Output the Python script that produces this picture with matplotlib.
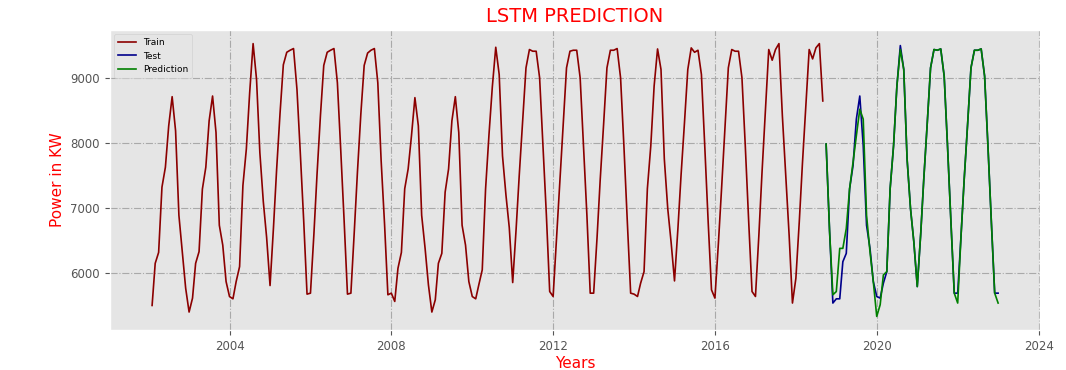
import pandas as pd
import matplotlib.pyplot as plt
import matplotlib.dates as mdates

# monthly power values (month-end dates)
train_start = '2002-01-31'
test_start = '2018-09-30'

train_values = [
    5503, 6150, 6318, 7320, 7626, 8262, 8710, 8186, 6888, 6328, 5769, 5402,  # 2002
    5616, 6150, 6330, 7290, 7626, 8339, 8720, 8160, 6735, 6430, 5870, 5640,  # 2003
    5605, 5870, 6100, 7346, 7907, 8770, 9525, 8975, 7850, 7100, 6550, 5809,  # 2004
    6700, 7580, 8450, 9200, 9392, 9423, 9449, 8823, 7850, 6800, 5677, 5692,  # 2005
    6600, 7510, 8420, 9190, 9392, 9423, 9449, 8924, 7900, 6800, 5677, 5692,  # 2006
    6650, 7550, 8450, 9190, 9380, 9423, 9449, 8924, 7730, 6750, 5667, 5692,  # 2007
    5565, 6074, 6318, 7296, 7600, 8110, 8695, 8262, 6888, 6380, 5820, 5402,  # 2008
    5590, 6150, 6303, 7244, 7600, 8339, 8710, 8160, 6735, 6430, 5870, 5640,  # 2009
    5605, 5820, 6050, 7290, 8130, 8860, 9469, 9050, 7800, 7200, 6700, 5855,  # 2010
    6680, 7500, 8330, 9153, 9434, 9408, 9408, 9000, 7958, 6895, 5717, 5641,  # 2011
    6540, 7400, 8280, 9153, 9408, 9423, 9423, 9000, 7958, 6888, 5692, 5692,  # 2012
    6556, 7430, 8290, 9153, 9423, 9423, 9449, 9000, 7958, 6786, 5692, 5677,  # 2013
    5641, 5845, 6023, 7296, 7958, 8873, 9443, 9128, 7754, 6990, 6480, 5880,  # 2014
    6690, 7500, 8310, 9128, 9459, 9392, 9423, 9051, 7958, 6786, 5743, 5616,  # 2015
    6450, 7300, 8250, 9153, 9434, 9408, 9408, 9000, 7958, 6786, 5717, 5641,  # 2016
    6590, 7540, 8490, 9434, 9270, 9434, 9525, 8415, 7500, 6583, 5540, 5921,  # 2017
    6800, 7680, 8560, 9434, 9290, 9460, 9525, 8644,                          # 2018
]

test_values = [
    7983, 6650, 5540, 5605,                                                  # 2018
    5605, 6175, 6303, 7296, 7652, 8365, 8720, 7958, 6735, 6380, 5870, 5641,  # 2019
    5616, 5845, 6023, 7296, 7958, 8873, 9495, 9128, 7754, 6990, 6480, 5793,  # 2020
    6600, 7450, 8300, 9153, 9434, 9423, 9443, 9026, 7958, 6786, 5692, 5692,  # 2021
    6600, 7450, 8300, 9153, 9423, 9423, 9443, 9026, 7958, 6786, 5692, 5692,  # 2022
]

pred_values = [
    7983, 6650, 5667, 5717,                                                  # 2018
    6380, 6380, 6685, 7296, 7700, 8110, 8517, 8365, 6888, 6330, 5870, 5335,  # 2019
    5514, 5972, 6023, 7296, 7958, 8873, 9434, 9128, 7754, 6990, 6480, 5793,  # 2020
    6600, 7450, 8300, 9153, 9434, 9423, 9443, 9026, 7958, 6786, 5692, 5540,  # 2021
    6600, 7450, 8300, 9153, 9423, 9423, 9443, 9026, 7958, 6786, 5692, 5540,  # 2022
]

train = pd.Series(train_values, index=pd.date_range(train_start, periods=len(train_values), freq='ME'))
test = pd.Series(test_values, index=pd.date_range(test_start, periods=len(test_values), freq='ME'))
pred = pd.Series(pred_values, index=pd.date_range(test_start, periods=len(pred_values), freq='ME'))

plt.style.use('ggplot')
fig = plt.figure(figsize=(10.66, 3.7), dpi=100)
ax = fig.add_axes([0.103, 0.108, 0.873, 0.811])

ax.plot(train.index, train.values, color='darkred', linewidth=1.2, label='Train')
ax.plot(test.index, test.values, color='darkblue', linewidth=1.2, label='Test')
ax.plot(pred.index, pred.values, color='green', linewidth=1.2, label='Prediction')

ax.grid(True, color='darkgray', linestyle='-.', linewidth=0.8)
ax.xaxis.set_major_locator(mdates.YearLocator(4))
ax.xaxis.set_major_formatter(mdates.DateFormatter('%Y'))
ax.set_yticks([6000, 7000, 8000, 9000])
ax.tick_params(labelsize=8.5)

ax.set_title('LSTM PREDICTION', color='red', fontsize=14)
ax.set_xlabel('Years', color='red', fontsize=11, labelpad=2)
ax.set_ylabel('Power in KW', color='red', fontsize=11)
ax.legend(loc='upper left', fontsize=6.5)

fig.savefig('out.png', dpi=100)
